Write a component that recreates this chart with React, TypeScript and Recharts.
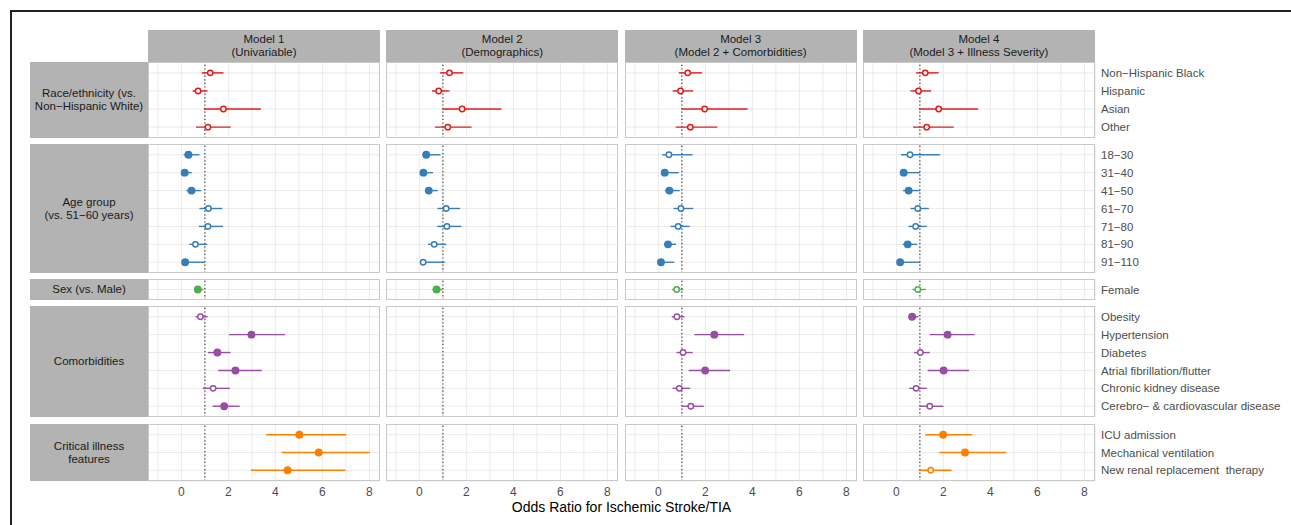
import React from 'react';
import { ScatterChart, Scatter, XAxis, YAxis, CartesianGrid, ErrorBar, ReferenceLine } from 'recharts';

// each estimate: [odds ratio, lower CI, upper CI, significant (1 = filled)]
type Est = [number, number, number, number];

const modelTitles = [
    ['Model 1', '(Univariable)'],
    ['Model 2', '(Demographics)'],
    ['Model 3', '(Model 2 + Comorbidities)'],
    ['Model 4', '(Model 3 + Illness Severity)'],
];

const raceLabels = ['Non\u2212Hispanic Black', 'Hispanic', 'Asian', 'Other'];
const raceM1: Est[] = [[1.23, 0.87, 1.79, 0], [0.71, 0.48, 1.11, 0], [1.79, 0.96, 3.38, 0], [1.13, 0.62, 2.10, 0]];
const raceM2: Est[] = [[1.28, 0.88, 1.87, 0], [0.82, 0.54, 1.28, 0], [1.82, 0.98, 3.49, 0], [1.21, 0.66, 2.22, 0]];
const raceM3: Est[] = [[1.25, 0.87, 1.86, 0], [0.94, 0.61, 1.48, 0], [1.97, 0.99, 3.80, 0], [1.36, 0.74, 2.51, 0]];
const raceM4: Est[] = [[1.23, 0.84, 1.80, 0], [0.94, 0.60, 1.48, 0], [1.80, 0.96, 3.48, 0], [1.29, 0.71, 2.44, 0]];

const ageLabels = ['18\u221230', '31\u221240', '41\u221250', '61\u221270', '71\u221280', '81\u221290', '91\u2212110'];
const ageM1: Est[] = [[0.30, 0.10, 0.77, 1], [0.14, 0.05, 0.44, 1], [0.43, 0.21, 0.84, 1], [1.15, 0.77, 1.74, 0], [1.13, 0.75, 1.77, 0], [0.60, 0.34, 1.09, 0], [0.16, 0.05, 0.99, 1]];
const ageM2: Est[] = [[0.29, 0.13, 0.90, 1], [0.17, 0.07, 0.58, 1], [0.40, 0.24, 0.78, 1], [1.14, 0.77, 1.73, 0], [1.17, 0.76, 1.79, 0], [0.63, 0.37, 1.15, 0], [0.16, 0.04, 1.08, 0]];
const ageM3: Est[] = [[0.45, 0.16, 1.46, 0], [0.27, 0.11, 0.87, 1], [0.47, 0.27, 0.91, 1], [0.96, 0.65, 1.48, 0], [0.84, 0.52, 1.33, 0], [0.41, 0.24, 0.75, 1], [0.11, 0.02, 0.67, 1]];
const ageM4: Est[] = [[0.58, 0.20, 1.86, 0], [0.31, 0.16, 1.00, 1], [0.52, 0.28, 0.99, 1], [0.91, 0.60, 1.38, 0], [0.82, 0.52, 1.29, 0], [0.48, 0.27, 0.88, 1], [0.16, 0.04, 1.00, 1]];

const sexLabels = ['Female'];
const sexM1: Est[] = [[0.70, 0.54, 0.94, 1]];
const sexM2: Est[] = [[0.73, 0.56, 0.98, 1]];
const sexM3: Est[] = [[0.78, 0.58, 1.05, 0]];
const sexM4: Est[] = [[0.91, 0.68, 1.25, 0]];

const comorbLabels = ['Obesity', 'Hypertension', 'Diabetes', 'Atrial fibrillation/flutter', 'Chronic kidney disease', 'Cerebro\u2212 & cardiovascular disease'];
const comorbM1: Est[] = [[0.81, 0.60, 1.12, 0], [2.98, 2.03, 4.41, 1], [1.53, 1.13, 2.09, 1], [2.30, 1.57, 3.42, 1], [1.35, 0.91, 2.06, 0], [1.82, 1.33, 2.48, 1]];
const comorbM2: Est[] = [];
const comorbM3: Est[] = [[0.79, 0.57, 1.11, 0], [2.38, 1.53, 3.65, 1], [1.05, 0.77, 1.46, 0], [1.99, 1.29, 3.05, 1], [0.89, 0.60, 1.35, 0], [1.38, 0.99, 1.93, 0]];
const comorbM4: Est[] = [[0.67, 0.50, 0.94, 1], [2.18, 1.42, 3.33, 1], [1.02, 0.75, 1.42, 0], [2.01, 1.33, 3.09, 1], [0.84, 0.55, 1.29, 0], [1.42, 0.99, 2.00, 0]];

const critLabels = ['ICU admission', 'Mechanical ventilation', 'New renal replacement  therapy'];
const critM1: Est[] = [[5.02, 3.60, 7.01, 1], [5.84, 4.27, 8.01, 1], [4.52, 2.96, 6.98, 1]];
const critM2: Est[] = [];
const critM3: Est[] = [];
const critM4: Est[] = [[1.99, 1.23, 3.23, 1], [2.92, 1.83, 4.67, 1], [1.46, 0.95, 2.34, 0]];

const xTicks = [-1, 0, 1, 2, 3, 4, 5, 6, 7, 8];
const xDomain = [-1.42, 8.45];

const groups = [
    { strip: ['Race/ethnicity (vs.', 'Non\u2212Hispanic White)'], labels: raceLabels, color: '#E41A1C', top: 62, height: 76, models: [raceM1, raceM2, raceM3, raceM4] },
    { strip: ['Age group', '(vs. 51\u221260 years)'], labels: ageLabels, color: '#377EB8', top: 144, height: 129, models: [ageM1, ageM2, ageM3, ageM4] },
    { strip: ['Sex (vs. Male)'], labels: sexLabels, color: '#4DAF4A', top: 279, height: 21, models: [sexM1, sexM2, sexM3, sexM4] },
    { strip: ['Comorbidities'], labels: comorbLabels, color: '#984EA3', top: 306, height: 111, models: [comorbM1, comorbM2, comorbM3, comorbM4] },
    { strip: ['Critical illness', 'features'], labels: critLabels, color: '#FF7F00', top: 424, height: 57, models: [critM1, critM2, critM3, critM4] },
];

const colLeft = [148, 386.3, 624.6, 862.9];
const panelW = 232;
const font = '"Liberation Sans", Arial, Helvetica, sans-serif';

function Panel({ est, labels, color, col, height, bottom }: { est: Est[]; labels: string[]; color: string; col: number; height: number; bottom: boolean }) {
    const data = est.map((e, i) => ({ x: e[0], y: i, err: [e[0] - e[1], e[2] - e[0]], filled: e[3] }));
    const n = labels.length;
    const right = col === 3;
    const axisH = bottom ? 24 : 0;
    return (
        <ScatterChart
            width={panelW + (right ? 200 : 0)}
            height={height + axisH}
            margin={{ top: 0, right: 0, bottom: 0, left: 0 }}
        >
            <CartesianGrid stroke="#EBEBEB" strokeWidth={1} />
            <XAxis
                type="number"
                dataKey="x"
                domain={xDomain}
                ticks={xTicks}
                allowDataOverflow
                hide={!bottom}
                height={axisH}
                interval={0}
                tickLine={false}
                axisLine={false}
                tickSize={0}
                tickMargin={6}
                tickFormatter={(v: number) => (v >= 0 && v % 2 === 0 ? String(v) : '')}
                tick={{ fill: '#4D4D4D', fontSize: 12, fontFamily: font }}
            />
            <YAxis
                type="number"
                dataKey="y"
                domain={[-0.6, n - 0.4]}
                ticks={labels.map((_, i) => i)}
                reversed
                allowDataOverflow
                interval={0}
                hide={!right}
                orientation="right"
                width={right ? 200 : 0}
                tickLine={false}
                axisLine={false}
                tick={(p: any) => (
                    <text
                        x={p.x - 2}
                        y={p.y}
                        dy="0.36em"
                        fill="#4D4D4D"
                        fontSize={11.5}
                        fontFamily={font}
                        style={{ whiteSpace: 'pre' }}
                    >
                        {labels[p.payload.value] ?? ''}
                    </text>
                )}
            />
            <ReferenceLine x={1} stroke="#333" strokeWidth={1.2} strokeDasharray="1.2 2.4" />
            <Scatter
                data={data}
                isAnimationActive={false}
                shape={(p: any) => (
                    <circle
                        cx={p.cx}
                        cy={p.cy}
                        r={p.payload.filled ? 3.2 : 2.7}
                        fill={p.payload.filled ? color : '#fff'}
                        stroke={color}
                        strokeWidth={1.5}
                    />
                )}
            >
                <ErrorBar dataKey="err" direction="x" width={0} stroke={color} strokeWidth={1.4} isAnimationActive={false} />
            </Scatter>
        </ScatterChart>
    );
}

export default function App() {
    const stripStyle: React.CSSProperties = {
        position: 'absolute',
        background: '#B3B3B3',
        display: 'flex',
        flexDirection: 'column',
        alignItems: 'center',
        justifyContent: 'center',
        fontFamily: font,
        fontSize: 11.5,
        lineHeight: '13px',
        color: '#1A1A1A',
        textAlign: 'center',
    };
    return (
        <div style={{ position: 'absolute', left: 0, top: 0, width: 1291, height: 525, background: '#fff', overflow: 'hidden' }}>
            <div style={{ position: 'absolute', left: 10, top: 10, width: 1281, height: 2, background: '#222' }} />
            <div style={{ position: 'absolute', left: 10, top: 10, width: 2, height: 515, background: '#222' }} />

            {modelTitles.map((t, c) => (
                <div key={'h' + c} style={{ ...stripStyle, left: colLeft[c], top: 30, width: panelW, height: 32 }}>
                    <div>{t[0]}</div>
                    <div>{t[1]}</div>
                </div>
            ))}

            {groups.map((g, r) => (
                <React.Fragment key={'g' + r}>
                    <div style={{ ...stripStyle, left: 30, top: g.top, width: 118, height: g.height }}>
                        {g.strip.map((s) => (
                            <div key={s}>{s}</div>
                        ))}
                    </div>
                    {g.models.map((est, c) => (
                        <React.Fragment key={'p' + r + c}>
                            <div style={{ position: 'absolute', left: colLeft[c], top: g.top }}>
                                <Panel est={est} labels={g.labels} color={g.color} col={c} height={g.height} bottom={r === groups.length - 1} />
                            </div>
                            <div
                                style={{
                                    position: 'absolute',
                                    left: colLeft[c],
                                    top: g.top,
                                    width: panelW,
                                    height: g.height,
                                    boxSizing: 'border-box',
                                    border: '1.3px solid #C9C9C9',
                                    pointerEvents: 'none',
                                }}
                            />
                        </React.Fragment>
                    ))}
                </React.Fragment>
            ))}

            <div style={{ position: 'absolute', left: 148, top: 499, width: 947, textAlign: 'center', fontFamily: font, fontSize: 14, color: '#000' }}>
                Odds Ratio for Ischemic Stroke/TIA
            </div>
        </div>
    );
}
